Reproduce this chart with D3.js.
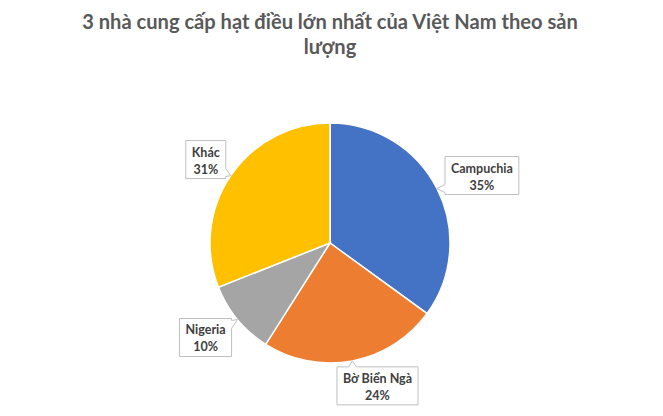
<!DOCTYPE html>
<html>
<head>
<meta charset="utf-8">
<script src="https://cdn.jsdelivr.net/npm/d3@7"></script>
<style>
  body { margin: 0; background: #fff; }
  svg text { font-family: Lato, "Open Sans", sans-serif; }
</style>
</head>
<body>
<svg></svg>
<script>
// chart data
const categories = ["Campuchia", "Bờ Biển Ngà", "Nigeria", "Khác"];
const shares = [35, 24, 10, 31];
const colors = ["#4472C4", "#ED7D31", "#A5A5A5", "#FFC000"];
const titleLines = ["3 nhà cung cấp hạt điều lớn nhất của Việt Nam theo sản", "lượng"];

// where each callout sits, relative to the slice edge point
const labelNudge = [[45, -13], [25, 25], [-32, 18], [-25, -16]];

let width = 663;
let height = 416;
let cx = 330, cy = 243, radius = 120;

let svg = d3.select("svg")
    .attr("width", width)
    .attr("height", height);

let title = svg.selectAll("text.title")
    .data(titleLines)
    .enter()
    .append("text")
    .attr("class", "title")
    .attr("x", 330)
    .attr("y", (d, i) => 29 + i * 25)
    .attr("text-anchor", "middle")
    .attr("fill", "#595959")
    .attr("font-size", "18px")
    .attr("font-weight", "bold")
    .text(d => d);

// fit the first title line to the width it has in the original
let firstLen = title.node().getComputedTextLength();
title.attr("font-size", (18 * 496 / firstLen) + "px");

let pie = d3.pie().sort(null).value(d => d);
let arc = d3.arc().innerRadius(0).outerRadius(radius);
let arcs = pie(shares);

let g = svg.append("g").attr("transform", `translate(${cx},${cy})`);

g.selectAll("path")
    .data(arcs)
    .enter()
    .append("path")
    .attr("d", arc)
    .attr("fill", (d, i) => colors[i])
    .attr("stroke", "#fff")
    .attr("stroke-width", 1.5);

// callouts
function calloutPath(x0, y0, x1, y1, tx, ty) {
    let side;
    if (tx < x0) side = "left";
    else if (tx > x1) side = "right";
    else if (ty < y0) side = "top";
    else side = "bottom";
    let clamp = (v, a, b) => Math.max(a, Math.min(b, v));
    let p = [];
    p.push([x0, y0]);
    if (side === "top") {
        let c = clamp(tx, x0 + 8, x1 - 8);
        p.push([c - 4, y0], [tx, ty], [c + 4, y0]);
    }
    p.push([x1, y0]);
    if (side === "right") {
        let c = clamp(ty, y0 + 6, y1 - 6);
        p.push([x1, c - 4], [tx, ty], [x1, c + 4]);
    }
    p.push([x1, y1]);
    if (side === "bottom") {
        let c = clamp(tx, x0 + 8, x1 - 8);
        p.push([c + 4, y1], [tx, ty], [c - 4, y1]);
    }
    p.push([x0, y1]);
    if (side === "left") {
        let c = clamp(ty, y0 + 6, y1 - 6);
        p.push([x0, c + 4], [tx, ty], [x0, c - 4]);
    }
    return "M" + p.map(q => q.join(",")).join("L") + "Z";
}

arcs.forEach((d, i) => {
    let mid = (d.startAngle + d.endAngle) / 2;
    let tx = radius * Math.sin(mid);
    let ty = -radius * Math.cos(mid);
    let lx = tx + labelNudge[i][0];
    let ly = ty + labelNudge[i][1];

    let lab = g.append("g");
    let path = lab.append("path");
    let t = lab.append("text")
        .attr("text-anchor", "middle")
        .attr("fill", "#404040")
        .attr("font-size", "12.5px")
        .attr("font-weight", "bold");
    t.append("tspan").attr("x", lx).attr("y", ly - 3).text(categories[i]);
    t.append("tspan").attr("x", lx).attr("y", ly + 14).text(shares[i] + "%");

    let w = d3.max(t.selectAll("tspan").nodes(), n => n.getComputedTextLength());
    let x0 = lx - w / 2 - 6, x1 = lx + w / 2 + 6;
    let y0 = ly - 19, y1 = ly + 19;
    path.attr("d", calloutPath(x0, y0, x1, y1, tx, ty))
        .attr("fill", "#fff")
        .attr("stroke", "#BFBFBF")
        .attr("stroke-width", 1);
});
</script>
</body>
</html>
